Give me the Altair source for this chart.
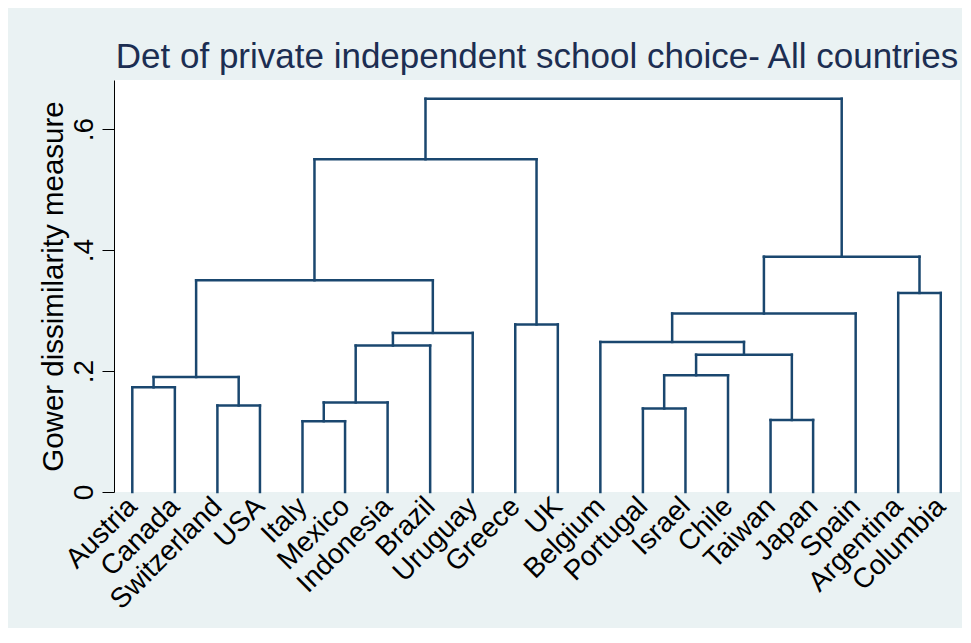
import altair as alt
import pandas as pd

# Leaves in dendrogram order
countries = ["Austria", "Canada", "Switzerland", "USA", "Italy", "Mexico",
             "Indonesia", "Brazil", "Uruguay", "Greece", "UK", "Belgium",
             "Portugal", "Israel", "Chile", "Taiwan", "Japan", "Spain",
             "Argentina", "Columbia"]

# Merges: node ids 0..19 are leaves, new nodes numbered from 20 upward
merge_left = [0, 2, 20, 4, 23, 24, 25, 22, 9, 27, 12, 30, 15, 31, 11, 34, 18, 35, 29]
merge_right = [1, 3, 21, 5, 6, 7, 8, 26, 10, 28, 13, 14, 16, 32, 33, 17, 19, 36, 37]
merge_height = [0.173, 0.143, 0.190, 0.117, 0.148, 0.242, 0.263, 0.350, 0.277, 0.550,
                0.138, 0.193, 0.119, 0.227, 0.248, 0.295, 0.329, 0.389, 0.650]

# Compute node positions (midpoint of children) and build segments
n = len(countries)
pos = {i: float(i) for i in range(n)}
hgt = {i: 0.0 for i in range(n)}
rows = []
for k, (a, b, h) in enumerate(zip(merge_left, merge_right, merge_height)):
    node = n + k
    xa, xb = pos[a], pos[b]
    rows.append({"x": xa, "x2": xa, "y": hgt[a], "y2": h})
    rows.append({"x": xb, "x2": xb, "y": hgt[b], "y2": h})
    rows.append({"x": xa, "x2": xb, "y": h, "y2": h})
    pos[node] = (xa + xb) / 2
    hgt[node] = h

segs = pd.DataFrame(rows)

names_js = "[" + ",".join("'" + c + "'" for c in countries) + "]"

chart = alt.Chart(segs).mark_rule(
    color="#1a476f", strokeWidth=2.5, strokeCap="square"
).encode(
    x=alt.X("x:Q",
            scale=alt.Scale(domain=[-0.43, 19.452], nice=False, zero=False),
            axis=alt.Axis(values=list(range(n)), labelExpr=names_js + "[datum.value]",
                          title=None, domain=False, ticks=False, tickSize=0, grid=False,
                          labelAngle=-45, labelAlign="right", labelBaseline="middle",
                          labelPadding=10, labelFontSize=28, labelFont="Liberation Sans",
                          labelColor="black", labelOverlap=False, labelFlush=False,
                          labelBound=False)),
    x2="x2:Q",
    y=alt.Y("y:Q",
            scale=alt.Scale(domain=[0, 0.681], nice=False, zero=True),
            axis=alt.Axis(values=[0, 0.2, 0.4, 0.6],
                          labelExpr="datum.value == 0 ? '0' : '.' + round(datum.value*10)",
                          title="Gower dissimilarity measure",
                          titleFont="Liberation Sans", titleFontSize=29.5,
                          titleFontWeight="normal", titleColor="black",
                          titleAngle=270, titleAlign="center", titleBaseline="alphabetic",
                          titleX=-51.5, titleY=206,
                          grid=False, domainColor="black", domainWidth=1,
                          tickColor="black", tickSize=12, tickWidth=1,
                          labelAngle=270, labelAlign="center", labelBaseline="alphabetic",
                          labelPadding=10, labelFontSize=28, labelFont="Liberation Sans",
                          labelColor="black", labelOverlap=False, labelFlush=False,
                          labelBound=False)),
    y2="y2:Q",
).properties(
    width=846,
    height=412,
    autosize=alt.AutoSizeParams(type="none"),
    padding={"left": 106, "top": 72, "right": 2, "bottom": 136},
    background="#eaf2f3",
    title=alt.TitleParams(
        "Det of private independent school choice- All countries",
        font="Liberation Sans", fontSize=35, fontWeight="normal", color="#1c2e52",
        anchor="middle", frame="group", baseline="alphabetic", offset=13, dy=36,
    ),
).configure_view(fill="white", strokeWidth=0)

chart.save("out.html", embed_options={"renderer": "svg", "actions": False})
